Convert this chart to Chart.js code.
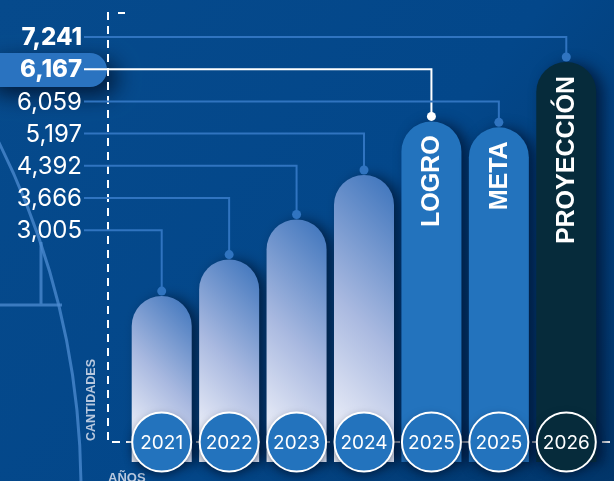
<!DOCTYPE html>
<html>
<head>
<meta charset="utf-8">
<script src="https://cdn.jsdelivr.net/npm/chart.js@4.4.1/dist/chart.umd.min.js"></script>
<style>
  html, body { margin: 0; padding: 0; background: #044887; overflow: hidden; }
  canvas { display: block; }
</style>
</head>
<body>
<canvas id="chart" width="614" height="481"></canvas>
<script>
const years = ["2021", "2022", "2023", "2024", "2025", "2025", "2026"];
const barNames = ["", "", "", "", "LOGRO", "META", "PROYECCIÓN"];
const cantidades = [3005, 3666, 4392, 5197, 6167, 6059, 7241];
const tickLabels = ["7,241", "6,167", "6,059", "5,197", "4,392", "3,666", "3,005"];
const axisTitleY = "CANTIDADES";
const axisTitleX = "AÑOS";

const BLUE = "#2373bd";
const DARK = "#062b3b";
const LINE = "#3074c0";
const FONT = "Inter, 'Noto Sans', sans-serif";
const BOLD_FONT = "'Liberation Sans', Arial, sans-serif";

// each tick label points at the bar with the same value
const tickTargets = tickLabels.map((t) => cantidades.indexOf(Number(t.replace(/,/g, ""))));
const highlightTick = 1; // 6,167 -> LOGRO
const boldTicks = [0, 1];

function barFill(context) {
  const i = context.dataIndex;
  if (i >= 6) return DARK;
  if (i >= 4) return BLUE;
  const chart = context.chart;
  const area = chart.chartArea;
  if (!area) return "#8fa8d8";
  const x = chart.scales.x.getPixelForValue(i);
  const top = chart.scales.y.getPixelForValue(cantidades[i]);
  const h = area.bottom - top;
  const d = (60 + h) / 2;
  const g = chart.ctx.createLinearGradient(x - 30, area.bottom, x - 30 + d, area.bottom - d);
  g.addColorStop(0, "#f0f2fa");
  g.addColorStop(0.45, "#a9b9e0");
  g.addColorStop(1, "#3a72bb");
  return g;
}

function roundRect(c, x, y, w, h, r) {
  c.beginPath();
  c.moveTo(x + r, y);
  c.arcTo(x + w, y, x + w, y + h, r);
  c.arcTo(x + w, y + h, x, y + h, r);
  c.arcTo(x, y + h, x, y, r);
  c.arcTo(x, y, x + w, y, r);
  c.closePath();
}

const decorPlugin = {
  id: "decor",
  beforeDraw(chart) {
    const c = chart.ctx;
    const W = chart.width, H = chart.height;
    c.save();
    const bg = c.createLinearGradient(0, 0, W, H);
    bg.addColorStop(0, "#064a8c");
    bg.addColorStop(0.55, "#03478a");
    bg.addColorStop(1, "#02366a");
    c.fillStyle = bg;
    c.fillRect(0, 0, W, H);

    // decorative arc and lines on the left
    c.strokeStyle = "rgba(78, 140, 210, 0.75)";
    c.lineWidth = 3;
    c.beginPath();
    c.arc(-695, 490, 776, -Math.PI / 2, 0.2);
    c.stroke();
    c.beginPath();
    c.moveTo(0, 305);
    c.lineTo(62, 305);
    c.moveTo(41, 242);
    c.lineTo(41, 305);
    c.stroke();

    // pill behind highlighted label
    c.save();
    c.shadowColor = "rgba(0, 15, 40, 0.85)";
    c.shadowBlur = 22;
    c.shadowOffsetX = 10;
    c.shadowOffsetY = 8;
    c.fillStyle = "#2a73c0";
    roundRect(c, -20, 53, 127, 34, 17);
    c.fill();
    c.restore();

    // dashed axes
    c.strokeStyle = "#ffffff";
    c.lineWidth = 2;
    c.setLineDash([8, 6]);
    c.beginPath();
    c.moveTo(108, 12);
    c.lineTo(108, 442);
    c.lineTo(614, 442);
    c.stroke();
    c.setLineDash([]);
    c.beginPath();
    c.moveTo(118, 13);
    c.lineTo(125, 13);
    c.stroke();

    // axis titles
    c.fillStyle = "#b8c8de";
    c.font = "bold 12.5px " + BOLD_FONT;
    c.textAlign = "center";
    c.textBaseline = "middle";
    c.save();
    c.translate(92, 400);
    c.rotate(-Math.PI / 2);
    c.fillText(axisTitleY, 0, 0);
    c.restore();
    c.textAlign = "left";
    c.textBaseline = "alphabetic";
    c.font = "bold 13px " + BOLD_FONT;
    c.fillText(axisTitleX, 108, 482);
    c.restore();
  },
  beforeDatasetsDraw(chart) {
    const c = chart.ctx;
    c.save();
    c.shadowColor = "rgba(0, 18, 45, 0.75)";
    c.shadowBlur = 14;
    c.shadowOffsetX = 7;
    c.shadowOffsetY = 2;
  },
  afterDatasetsDraw(chart) {
    const c = chart.ctx;
    c.restore();
    const xs = chart.scales.x, ys = chart.scales.y;
    c.save();

    // tick labels and connectors
    tickLabels.forEach((t, k) => {
      const ly = 37 + k * 32.2;
      const bi = tickTargets[k];
      const bx = xs.getPixelForValue(bi);
      const by = ys.getPixelForValue(cantidades[bi]);
      const col = k === highlightTick ? "#ffffff" : LINE;
      c.strokeStyle = col;
      c.lineWidth = 2;
      c.beginPath();
      c.moveTo(84, ly);
      c.lineTo(bx, ly);
      c.lineTo(bx, by - 5);
      c.stroke();
      c.fillStyle = col;
      c.beginPath();
      c.arc(bx, by - 5, 4.5, 0, Math.PI * 2);
      c.fill();

      c.fillStyle = "#ffffff";
      c.font = (boldTicks.includes(k) ? "800 " : "400 ") + "24px " + FONT;
      c.textAlign = "right";
      c.textBaseline = "middle";
      c.fillText(t, 82, ly + 1);
    });

    // names inside the last bars
    c.fillStyle = "#ffffff";
    c.font = "bold 25px " + BOLD_FONT;
    barNames.forEach((name, i) => {
      if (!name) return;
      const bx = xs.getPixelForValue(i);
      const by = ys.getPixelForValue(cantidades[i]);
      c.save();
      c.translate(bx + 1, by + 14);
      c.rotate(-Math.PI / 2);
      c.textAlign = "right";
      c.textBaseline = "middle";
      c.fillText(name, 0, 0);
      c.restore();
    });

    // year circles
    years.forEach((y, i) => {
      const bx = xs.getPixelForValue(i);
      c.save();
      c.shadowColor = "rgba(0, 18, 45, 0.6)";
      c.shadowBlur = 10;
      c.shadowOffsetY = 4;
      c.fillStyle = i === 6 ? DARK : BLUE;
      c.beginPath();
      c.arc(bx, 442, 29.5, 0, Math.PI * 2);
      c.fill();
      c.restore();
      c.strokeStyle = "#ffffff";
      c.lineWidth = 2;
      c.stroke();
      c.fillStyle = "#ffffff";
      c.font = "400 19px " + FONT;
      c.textAlign = "center";
      c.textBaseline = "middle";
      c.fillText(y, bx, 443);
    });
    c.restore();
  },
};

new Chart(document.getElementById("chart"), {
  type: "bar",
  data: {
    labels: years,
    datasets: [
      {
        data: cantidades,
        backgroundColor: barFill,
        borderRadius: 30,
        borderSkipped: "start",
        barPercentage: 0.89,
        categoryPercentage: 1,
        clip: false,
      },
    ],
  },
  options: {
    responsive: false,
    animation: false,
    layout: { padding: { left: 128, right: 14, top: 40, bottom: 41 } },
    plugins: { legend: { display: false }, tooltip: { enabled: false } },
    scales: {
      x: { display: false },
      y: { display: false, min: 400, max: 7640 },
    },
  },
  plugins: [decorPlugin],
});
</script>
</body>
</html>
